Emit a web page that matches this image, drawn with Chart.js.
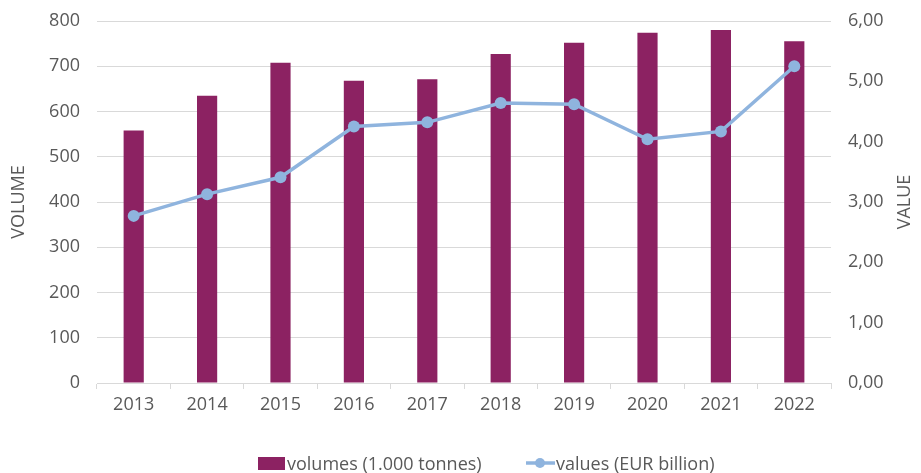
<!DOCTYPE html>
<html>
<head>
<meta charset="utf-8">
<script src="https://cdn.jsdelivr.net/npm/chart.js@4"></script>
<style>
  html, body { margin: 0; padding: 0; background: #fff; }
  #wrap { width: 921px; height: 473px; }
</style>
</head>
<body>
<div id="wrap"><canvas id="chart" width="921" height="473"></canvas></div>
<script>
const years = ['2013', '2014', '2015', '2016', '2017', '2018', '2019', '2020', '2021', '2022'];
const volumes = [558, 635, 708, 668, 671, 727, 752, 774, 780, 755];
const values = [2.77, 3.13, 3.41, 4.25, 4.32, 4.64, 4.62, 4.04, 4.17, 5.25];
const volumeTicks = [0, 100, 200, 300, 400, 500, 600, 700, 800];
const valueTicks = [0, 1, 2, 3, 4, 5, 6];

const BAR = '#8C2262';
const LINE = '#8FB4DE';
const TEXT = '#595959';
const GRID = '#D9D9D9';
const FONT = "'Open Sans', sans-serif";

// legend + right axis title drawn by hand (line symbol with marker, title reading upward)
const extrasPlugin = {
  id: 'extras',
  afterDraw(chart) {
    const ctx = chart.ctx;
    const area = chart.chartArea;
    const y = 465;
    const bars = chart.data.datasets.find(d => d.type === 'bar');
    const line = chart.data.datasets.find(d => d.type === 'line');
    ctx.save();
    ctx.font = '18px ' + FONT;
    ctx.textBaseline = 'middle';

    ctx.fillStyle = BAR;
    ctx.fillRect(258, y - 8, 27, 13);
    ctx.fillStyle = TEXT;
    ctx.fillText(bars.label, 287, y);

    ctx.strokeStyle = LINE;
    ctx.lineWidth = 3.5;
    ctx.beginPath();
    ctx.moveTo(526, y - 2);
    ctx.lineTo(555, y - 2);
    ctx.stroke();
    ctx.fillStyle = LINE;
    ctx.beginPath();
    ctx.arc(540, y - 2, 5, 0, Math.PI * 2);
    ctx.fill();
    ctx.fillStyle = TEXT;
    ctx.fillText(line.label, 556, y);

    ctx.translate(905, (area.top + area.bottom) / 2);
    ctx.rotate(-Math.PI / 2);
    ctx.textAlign = 'center';
    ctx.fillText('VALUE', 0, 0);
    ctx.restore();
  }
};

// fixed scale sizes so the plot area lands where the reference has it
const fixY = w => s => { s.width = w; s.paddingTop = 0; s.paddingBottom = 0; };

new Chart(document.getElementById('chart'), {
  data: {
    labels: years,
    datasets: [
      {
        type: 'line',
        label: 'values (EUR billion)',
        data: values,
        yAxisID: 'y1',
        borderColor: LINE,
        backgroundColor: LINE,
        borderWidth: 3.5,
        pointRadius: 6,
        pointBorderWidth: 0,
        pointBackgroundColor: LINE,
        tension: 0,
        order: 0
      },
      {
        type: 'bar',
        label: 'volumes (1.000 tonnes)',
        data: volumes,
        yAxisID: 'y',
        backgroundColor: BAR,
        categoryPercentage: 1,
        barPercentage: 0.275,
        order: 1
      }
    ]
  },
  options: {
    responsive: false,
    animation: false,
    layout: { padding: { top: 21, right: 0, bottom: 0, left: 0 } },
    plugins: { legend: { display: false }, tooltip: { enabled: false } },
    scales: {
      x: {
        offset: true,
        grid: { display: true, drawOnChartArea: false, color: GRID, tickLength: 6, offset: true },
        border: { display: true, color: GRID },
        ticks: { color: TEXT, font: { family: FONT, size: 18 }, padding: 5 },
        afterFit: s => { s.height = 90; s.paddingLeft = 0; s.paddingRight = 0; }
      },
      y: {
        position: 'left',
        min: 0, max: 800,
        afterBuildTicks: s => { s.ticks = volumeTicks.map(v => ({ value: v })); },
        grid: { color: GRID, drawTicks: false },
        border: { display: false },
        ticks: { color: TEXT, font: { family: FONT, size: 18 }, padding: 17 },
        title: { display: true, text: 'VOLUME', color: TEXT, font: { family: FONT, size: 18 }, padding: { top: 8, bottom: 0 } },
        afterFit: fixY(97)
      },
      y1: {
        position: 'right',
        min: 0, max: 6,
        afterBuildTicks: s => { s.ticks = valueTicks.map(v => ({ value: v })); },
        grid: { drawOnChartArea: false, drawTicks: false },
        border: { display: false },
        ticks: {
          color: TEXT, font: { family: FONT, size: 18 }, padding: 17,
          callback: v => v.toFixed(2).replace('.', ',')
        },
        afterFit: fixY(90)
      }
    }
  },
  plugins: [extrasPlugin]
});
</script>
</body>
</html>
